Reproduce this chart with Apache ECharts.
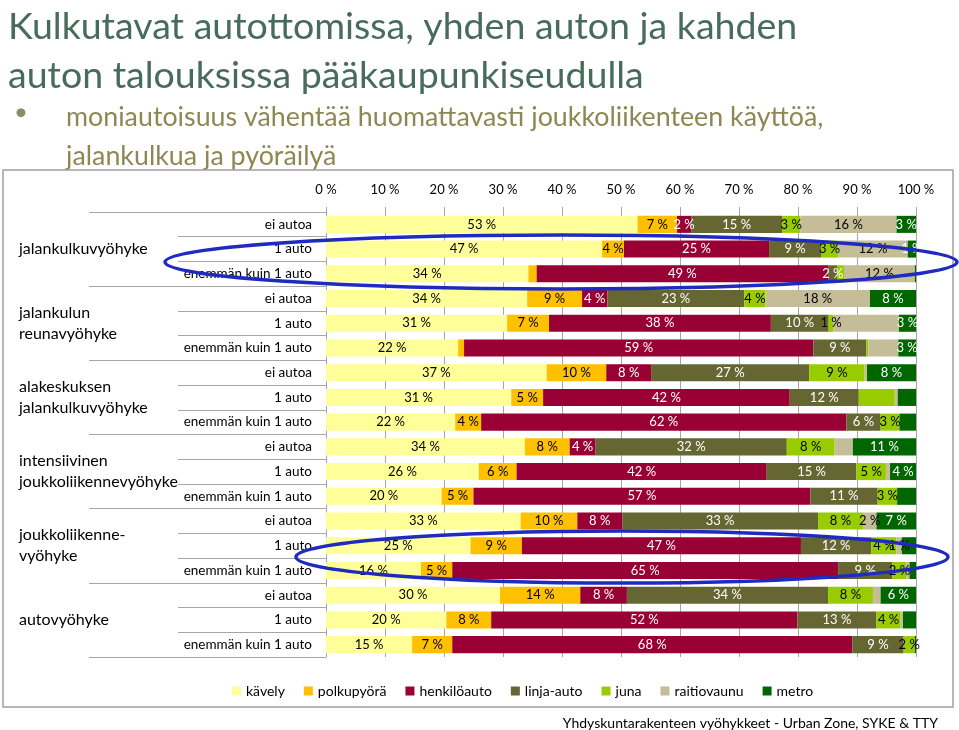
<!DOCTYPE html>
<html>
<head>
<meta charset="utf-8">
<script src="https://cdn.jsdelivr.net/npm/echarts@6/dist/echarts.min.js"></script>
<style>
html,body{margin:0;padding:0;background:#fff;}
#chart{width:959px;height:730px;}
</style>
</head>
<body>
<div id="chart"></div>
<script>
// ---- data ----
var groups = ['jalankulkuvyöhyke', 'jalankulun\nreunavyöhyke', 'alakeskuksen\njalankulkuvyöhyke',
  'intensiivinen\njoukkoliikennevyöhyke', 'joukkoliikenne-\nvyöhyke', 'autovyöhyke'];
var rows = ['ei autoa', '1 auto', 'enemmän kuin 1 auto',
  'ei autoa', '1 auto', 'enemmän kuin 1 auto',
  'ei autoa', '1 auto', 'enemmän kuin 1 auto',
  'ei autoa', '1 auto', 'enemmän kuin 1 auto',
  'ei autoa', '1 auto', 'enemmän kuin 1 auto',
  'ei autoa', '1 auto', 'enemmän kuin 1 auto'];
var seriesNames = ['kävely', 'polkupyörä', 'henkilöauto', 'linja-auto', 'juna', 'raitiovaunu', 'metro'];
var kavely      = [52.8, 46.8, 34.3, 34.1, 30.7, 22.4, 37.4, 31.4, 21.9, 33.7, 25.9, 19.6, 33.0, 24.5, 16.1, 29.5, 20.4, 14.6];
var polkupyora  = [6.7, 3.7, 1.4, 9.3, 7.1, 1.0, 10.1, 5.4, 4.4, 7.6, 6.4, 5.4, 9.6, 8.7, 5.3, 13.6, 7.6, 6.8];
var henkiloauto = [2.4, 24.6, 49.4, 4.3, 37.6, 59.2, 7.6, 41.8, 61.9, 4.4, 42.4, 57.1, 7.6, 47.3, 65.4, 7.9, 51.9, 67.8];
var linjaauto   = [15.4, 8.8, 1.6, 23.2, 9.8, 9.0, 26.8, 11.7, 5.8, 32.4, 15.2, 11.4, 33.2, 11.9, 9.2, 34.1, 13.4, 8.7];
var juna        = [3.1, 2.9, 1.1, 3.6, 0.8, 0.3, 9.4, 6.1, 3.2, 8.1, 5.0, 3.3, 7.6, 4.3, 2.4, 7.6, 4.1, 1.9];
var raitiovaunu = [16.3, 11.8, 12.0, 17.7, 11.1, 5.1, 0.4, 0.5, 0, 3.1, 0.7, 0, 2.3, 0.9, 0.5, 1.3, 0.4, 0];
var metro       = [3.3, 1.4, 0.2, 7.8, 2.9, 3.0, 8.3, 3.1, 2.8, 10.7, 4.4, 3.2, 6.7, 2.4, 1.1, 6.0, 2.2, 0.2];
// rows (0-based) whose value label is not printed, per series
var hiddenLabels = [
  [],                         // kävely
  [2, 5],                     // polkupyörä
  [],                         // henkilöauto
  [],                         // linja-auto
  [2, 5, 7],                  // juna
  [4, 5, 6, 7, 8, 9, 10, 11, 14, 15, 16, 17], // raitiovaunu
  [2, 7, 8, 11, 13, 14, 16, 17] // metro
];
var xTicks = [0, 10, 20, 30, 40, 50, 60, 70, 80, 90, 100];

var values = [kavely, polkupyora, henkiloauto, linjaauto, juna, raitiovaunu, metro];
var colors = ['#FFFF99', '#FFC000', '#990033', '#666633', '#99CC00', '#C4BD97', '#006600'];
var labelColors = ['#000', '#000', '#fff', '#fff', '#000', '#000', '#fff'];
var FONT = 'Lato';

var chart = echarts.init(document.getElementById('chart'), null, {renderer: 'canvas'});

var series = seriesNames.map(function (name, si) {
  return {
    name: name,
    type: 'bar',
    stack: 'total',
    barCategoryGap: '31%',
    itemStyle: {color: colors[si]},
    label: {
      show: true,
      position: 'inside',
      color: labelColors[si],
      fontSize: 13,
      fontFamily: FONT,
      formatter: function (p) { return Math.round(p.value) + ' %'; }
    },
    data: values[si].map(function (v, ri) {
      var d = {value: v};
      if (hiddenLabels[si].indexOf(ri) >= 0) d.label = {show: false};
      return d;
    })
  };
});

var option = {
  animation: false,
  backgroundColor: '#fff',
  title: [
    {text: 'Kulkutavat autottomissa, yhden auton ja kahden\nauton talouksissa pääkaupunkiseudulla',
     left: 3, top: -3,
     textStyle: {fontFamily: FONT, fontWeight: 'normal', fontSize: 37.5, lineHeight: 49, color: '#476B5D'}},
    {text: 'moniautoisuus vähentää huomattavasti joukkoliikenteen käyttöä,\njalankulkua ja pyöräilyä',
     left: 61, top: 93,
     textStyle: {fontFamily: FONT, fontWeight: 'normal', fontSize: 26.8, lineHeight: 39, color: '#8E8753'}},
    {text: '•', left: 9, top: 95,
     textStyle: {fontFamily: FONT, fontWeight: 'normal', fontSize: 24, color: '#8E8A6A'}},
    {text: 'Yhdyskuntarakenteen vyöhykkeet - Urban Zone, SYKE & TTY',
     right: 16, top: 711,
     textStyle: {fontFamily: FONT, fontWeight: 'normal', fontSize: 14, color: '#000'}}
  ],
  legend: {
    left: 227, top: 679,
    itemWidth: 9, itemHeight: 9, itemGap: 19,
    icon: 'rect',
    textStyle: {fontFamily: FONT, fontSize: 14, color: '#000'},
    data: seriesNames
  },
  grid: {left: 326, right: 43, top: 212, bottom: 73, containLabel: false},
  xAxis: {
    type: 'value', position: 'top', min: xTicks[0], max: xTicks[xTicks.length - 1], interval: 10,
    axisLine: {show: false},
    axisTick: {show: true, length: 5, lineStyle: {color: '#A6A6A6'}},
    splitLine: {show: true, lineStyle: {color: '#A6A6A6', width: 1}},
    axisLabel: {fontFamily: FONT, fontSize: 13, color: '#000', margin: 16,
      formatter: function (v) { return v + ' %'; }}
  },
  yAxis: [
    {
      type: 'category', inverse: true, data: rows, position: 'left', offset: 0,
      axisLine: {show: true, lineStyle: {color: '#A6A6A6'}},
      axisTick: {show: true, length: 148, interval: 0, lineStyle: {color: '#A6A6A6'}},
      axisLabel: {interval: 0, fontFamily: FONT, fontSize: 13.5, color: '#000', margin: 14}
    },
    {
      type: 'category', inverse: true, data: groups, position: 'left', offset: 0,
      axisLine: {show: false},
      axisTick: {show: true, length: 237, interval: 0, lineStyle: {color: '#A6A6A6'}},
      axisLabel: {interval: 0, fontFamily: FONT, fontSize: 16, lineHeight: 21, color: '#000',
        margin: 307, align: 'left'}
    }
  ],
  graphic: [
    {type: 'rect', z: 100, silent: true, shape: {x: 3, y: 170, width: 950, height: 537},
     style: {fill: 'none', stroke: '#A0A0A0', lineWidth: 1.5}},
    {type: 'ellipse', z: 200, silent: true, shape: {cx: 561, cy: 262, rx: 396, ry: 27},
     style: {fill: 'none', stroke: '#1F2BBF', lineWidth: 3.5}},
    {type: 'ellipse', z: 200, silent: true, shape: {cx: 622, cy: 557, rx: 326, ry: 26},
     style: {fill: 'none', stroke: '#1F2BBF', lineWidth: 3.5}}
  ],
  series: series
};
chart.setOption(option);
</script>
</body>
</html>
